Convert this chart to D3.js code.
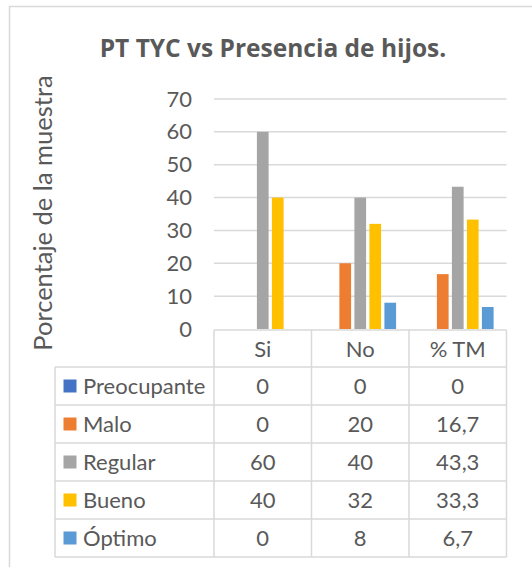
<!DOCTYPE html>
<html><head><meta charset="utf-8">
<script src="https://cdn.jsdelivr.net/npm/d3@7"></script>
<style>body{margin:0;background:#fff}svg{display:block}text{font-family:Lato,"Open Sans",sans-serif}</style>
</head><body><svg id="c" width="532" height="567"></svg>
<script>
const categories = ["Si", "No", "% TM"];
const seriesNames = ["Preocupante", "Malo", "Regular", "Bueno", "Óptimo"];
const preocupante = [0, 0, 0];
const malo = [0, 20, 16.7];
const regular = [60, 40, 43.3];
const bueno = [40, 32, 33.3];
const optimo = [0, 8, 6.7];
const yTicks = [0, 10, 20, 30, 40, 50, 60, 70];
const chartTitle = "PT TYC vs Presencia de hijos.";
const yLabel = "Porcentaje de la muestra";
const colors = ["#4472C4", "#ED7D31", "#A5A5A5", "#FFC000", "#5B9BD5"];

const seriesValues = [preocupante, malo, regular, bueno, optimo];
const svg = d3.select("#c");
const textColor = "#595959", lineColor = "#D9D9D9";

// frame
svg.append("path").attr("d", "M9.5,567 V6.5 H532").attr("fill", "none")
  .attr("stroke", lineColor).attr("stroke-width", 1.5);

// title
svg.append("text").attr("x", 273).attr("y", 57).attr("text-anchor", "middle")
  .attr("font-size", 24.5).attr("font-weight", "bold").attr("fill", textColor)
  .style("font-family", "'Open Sans', sans-serif").text(chartTitle);

const plotL = 214, plotR = 506.5, plotT = 99, plotB = 329;
const x = d3.scaleBand().domain(categories).range([plotL, plotR]);
const xs = d3.scaleBand().domain(seriesNames).range([0, x.bandwidth()]).paddingInner(0.22).paddingOuter(0.86);
const y = d3.scaleLinear().domain([0, 70]).range([plotB, plotT]);

// gridlines
svg.append("g").selectAll("line").data(yTicks.filter(t => t > 0)).join("line")
  .attr("x1", plotL).attr("x2", plotR).attr("y1", d => y(d)).attr("y2", d => y(d))
  .attr("stroke", lineColor).attr("stroke-width", 1.5);

// y axis tick labels
const yAxis = svg.append("g").attr("transform", `translate(${plotL},0)`)
  .call(d3.axisLeft(y).tickValues(yTicks).tickSize(0).tickPadding(22).tickFormat(d3.format("d")));
yAxis.select(".domain").remove();
yAxis.selectAll("text").attr("font-size", 22).attr("fill", textColor).attr("font-family", "Lato, 'Open Sans', sans-serif");

// y label
svg.append("text").attr("transform", "translate(52,213) rotate(-90)").attr("text-anchor", "middle")
  .attr("font-size", 25.5).attr("fill", textColor).text(yLabel);

// bars
seriesNames.forEach((s, si) => {
  svg.append("g").selectAll("rect").data(categories).join("rect")
    .attr("x", c => x(c) + xs(s)).attr("width", xs.bandwidth())
    .attr("y", (c, i) => y(seriesValues[si][i]))
    .attr("height", (c, i) => y(0) - y(seriesValues[si][i]))
    .attr("fill", colors[si]);
});

// data table
const tableL = 55, headT = 330, headB = 367, rowH = 38;
const tableB = headB + rowH * seriesNames.length;
const g = svg.append("g").attr("stroke", lineColor).attr("stroke-width", 1.5);
g.append("line").attr("x1", plotL).attr("x2", plotR).attr("y1", headT).attr("y2", headT);
d3.range(seriesNames.length + 1).forEach(i => {
  g.append("line").attr("x1", tableL).attr("x2", plotR).attr("y1", headB + i * rowH).attr("y2", headB + i * rowH);
});
g.append("line").attr("x1", tableL).attr("x2", tableL).attr("y1", headB).attr("y2", tableB);
categories.concat([null]).forEach((c, i) => {
  const xx = c ? x(c) : plotR;
  g.append("line").attr("x1", xx).attr("x2", xx).attr("y1", headT).attr("y2", tableB);
});

svg.append("g").selectAll("text").data(categories).join("text")
  .attr("x", c => x(c) + x.bandwidth() / 2).attr("y", (headT + headB) / 2 + 8)
  .attr("text-anchor", "middle").attr("font-size", 22).attr("fill", textColor).text(c => c);

const fmt = d3.formatLocale({decimal: ",", thousands: ".", grouping: [3], currency: ["", ""]}).format(".1~f");
seriesNames.forEach((s, si) => {
  const cy = headB + rowH * si + rowH / 2;
  svg.append("rect").attr("x", 63.5).attr("y", cy - 6.5).attr("width", 13).attr("height", 13).attr("fill", colors[si]);
  svg.append("text").attr("x", 83).attr("y", cy + 8).attr("font-size", 22).attr("fill", textColor).text(s);
  svg.append("g").selectAll("text").data(categories).join("text")
    .attr("x", c => x(c) + x.bandwidth() / 2).attr("y", cy + 8)
    .attr("text-anchor", "middle").attr("font-size", 22).attr("fill", textColor)
    .text((c, i) => fmt(seriesValues[si][i]));
});
</script></body></html>
